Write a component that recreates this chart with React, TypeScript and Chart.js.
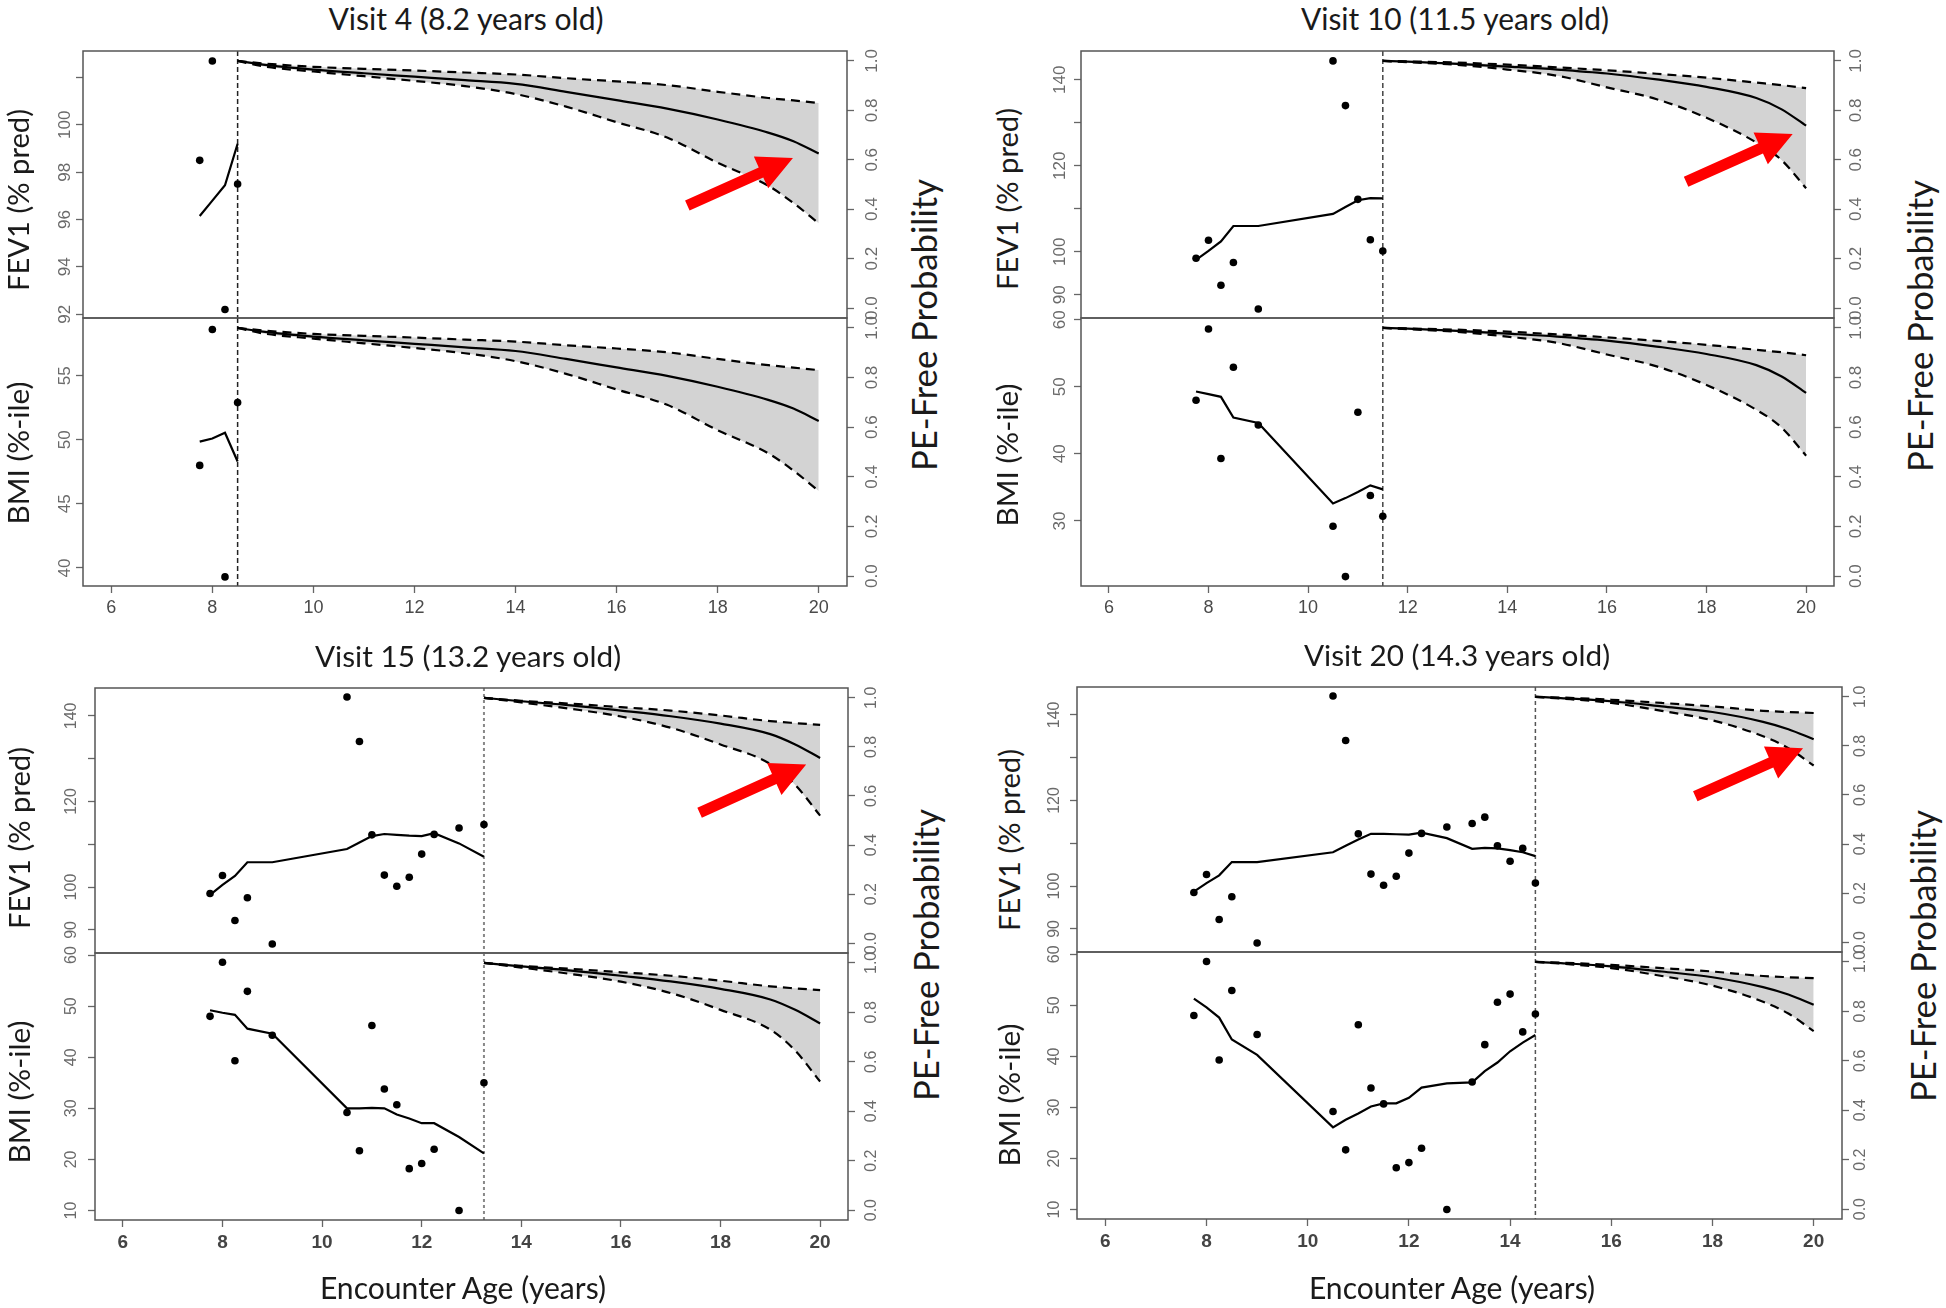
import React, { useEffect, useRef } from "react";
import { Chart, registerables } from "chart.js";
Chart.register(...registerables);

// ---------------- DATA ----------------
// Encounter ages (years) of the 20 visits and observed values
const AGE = [7.75, 8.0, 8.25, 8.5, 9.0, 10.5, 10.75, 11.0, 11.25, 11.5, 11.75, 12.0, 12.25, 12.75, 13.25, 13.5, 13.75, 14.0, 14.25, 14.5];
const FEV1 = [98.5, 102.7, 92.2, 97.5, 86.7, 144.4, 134.0, 112.2, 102.8, 100.2, 102.3, 107.7, 112.3, 113.8, 114.6, 116.1, 109.4, 105.8, 108.8, 100.7];
const BMI = [48.0, 58.6, 39.3, 52.9, 44.3, 29.2, 21.7, 46.2, 33.8, 30.7, 18.2, 19.2, 22.0, 10.0, 35.0, 42.3, 50.6, 52.2, 44.8, 48.3];

const VISIT_TITLES = ["Visit 4 (8.2 years old)", "Visit 10 (11.5 years old)", "Visit 15 (13.2 years old)", "Visit 20 (14.3 years old)"];
const VISIT_CUTOFF = [8.5, 11.5, 13.25, 14.5];

// fitted trajectories (aligned with AGE by index)
const FIT_FEV1_V4 = [96.15, 96.8, 97.45, 99.2];
const FIT_BMI_V4 = [49.85, 50.1, 50.55, 48.3];
const FIT_FEV1_V10 = [98.1, 100.2, 102.4, 106.0, 106.0, 108.8, 110.4, 112.0, 112.5, 112.4];
const FIT_BMI_V10 = [49.3, 48.9, 48.5, 45.4, 44.6, 32.6, 33.4, 34.3, 35.3, 34.7];
const FIT_FEV1_V15 = [98.2, 100.5, 102.6, 105.8, 105.8, 108.9, 110.4, 111.9, 112.4, 112.2, 112.0, 111.9, 112.6, 110.2, 107.1];
const FIT_BMI_V15 = [49.2, 48.7, 48.3, 45.6, 44.6, 30.0, 30.0, 30.1, 30.0, 28.8, 28.0, 27.1, 27.1, 24.4, 21.2];
const FIT_FEV1_V20 = [98.7, 100.7, 102.5, 105.6, 105.6, 107.9, 109.4, 110.9, 112.2, 112.2, 112.1, 112.0, 112.5, 111.2, 108.7, 108.9, 108.8, 108.4, 107.9, 107.0];
const FIT_BMI_V20 = [51.3, 49.6, 47.6, 43.3, 40.3, 26.1, 27.6, 28.8, 30.2, 30.8, 30.8, 31.9, 33.9, 34.7, 34.9, 37.1, 38.8, 41.0, 42.7, 44.2];

// PE-free probability predictions (mid, upper and lower bound)
const PROB_AGE_V4 = [8.5, 9, 10, 11, 12, 13, 14, 15, 16, 17, 18, 19, 19.5, 20];
const PROB_MID_V4 = [1.0, 0.985, 0.965, 0.95, 0.936, 0.922, 0.907, 0.875, 0.841, 0.807, 0.763, 0.71, 0.675, 0.625];
const PROB_HI_V4 = [1.0, 0.99, 0.976, 0.968, 0.961, 0.953, 0.945, 0.93, 0.917, 0.902, 0.875, 0.85, 0.84, 0.83];
const PROB_LO_V4 = [1.0, 0.978, 0.957, 0.938, 0.919, 0.898, 0.866, 0.815, 0.752, 0.69, 0.588, 0.495, 0.425, 0.343];

const PROB_AGE_V10 = [11.5, 12, 13, 14, 15, 16, 17, 18, 19, 19.5, 20];
const PROB_MID_V10 = [1.0, 0.997, 0.988, 0.977, 0.965, 0.949, 0.925, 0.895, 0.85, 0.805, 0.738];
const PROB_HI_V10 = [1.0, 0.998, 0.993, 0.985, 0.974, 0.962, 0.948, 0.932, 0.912, 0.902, 0.89];
const PROB_LO_V10 = [1.0, 0.995, 0.984, 0.965, 0.94, 0.893, 0.845, 0.77, 0.67, 0.6, 0.485];

const PROB_AGE_V15 = [13.25, 14, 15, 16, 17, 18, 19, 19.5, 20];
const PROB_MID_V15 = [1.0, 0.986, 0.969, 0.948, 0.925, 0.895, 0.852, 0.81, 0.755];
const PROB_HI_V15 = [1.0, 0.988, 0.976, 0.962, 0.948, 0.928, 0.905, 0.897, 0.89];
const PROB_LO_V15 = [1.0, 0.981, 0.955, 0.924, 0.878, 0.81, 0.73, 0.645, 0.52];

const PROB_AGE_V20 = [14.5, 15, 16, 17, 18, 19, 19.5, 20];
const PROB_MID_V20 = [1.0, 0.995, 0.982, 0.961, 0.938, 0.898, 0.868, 0.827];
const PROB_HI_V20 = [1.0, 0.997, 0.988, 0.975, 0.961, 0.943, 0.938, 0.934];
const PROB_LO_V20 = [1.0, 0.993, 0.975, 0.943, 0.904, 0.839, 0.791, 0.72];

// axis ranges and ticks
const X_RANGE = [5.44, 20.56];
const X_TICKS = [6, 8, 10, 12, 14, 16, 18, 20];
const PROB_RANGE = [-0.04, 1.04];
const PROB_TICKS = [0, 0.2, 0.4, 0.6, 0.8, 1.0];
const PROB_LABELS = ["0.0", "0.2", "0.4", "0.6", "0.8", "1.0"];
const FEV1_RANGE = [[91.84, 103.12], [84.6, 146.7], [84.6, 146.5], [84.6, 146.5]];
const BMI_RANGE = [[38.59, 59.5], [20.3, 60.25], [8.15, 60.4], [8.15, 60.45]];
const FEV1_TICKS_V4 = [92, 94, 96, 98, 100, 102];
const FEV1_LABELS_V4 = ["92", "94", "96", "98", "100", ""];
const FEV1_TICKS = [90, 100, 110, 120, 130, 140];
const FEV1_LABELS = ["90", "100", "", "120", "", "140"];
const BMI_TICKS_V4 = [40, 45, 50, 55];
const BMI_LABELS_V4 = ["40", "45", "50", "55"];
const BMI_TICKS_V10 = [30, 40, 50, 60];
const BMI_LABELS_V10 = ["30", "40", "50", "60"];
const BMI_TICKS = [10, 20, 30, 40, 50, 60];
const BMI_LABELS = ["10", "20", "30", "40", "50", "60"];

// red annotation arrows: [x0, p0, x1, p1] in (age, probability)
const ARROWS = [
  [17.4, 0.415, 19.49, 0.607],
  [17.59, 0.511, 19.73, 0.704],
  [17.58, 0.532, 19.72, 0.728],
  [17.66, 0.595, 19.79, 0.79],
];

// ---------------- PANEL TABLE (built from the arrays) ----------------
const PANELS = [
  { cutoff: VISIT_CUTOFF[0], fitFev: FIT_FEV1_V4, fitBmi: FIT_BMI_V4, pAge: PROB_AGE_V4, pMid: PROB_MID_V4, pHi: PROB_HI_V4, pLo: PROB_LO_V4, fevRange: FEV1_RANGE[0], bmiRange: BMI_RANGE[0], fevTicks: FEV1_TICKS_V4, fevLabels: FEV1_LABELS_V4, bmiTicks: BMI_TICKS_V4, bmiLabels: BMI_LABELS_V4, arrow: ARROWS[0] },
  { cutoff: VISIT_CUTOFF[1], fitFev: FIT_FEV1_V10, fitBmi: FIT_BMI_V10, pAge: PROB_AGE_V10, pMid: PROB_MID_V10, pHi: PROB_HI_V10, pLo: PROB_LO_V10, fevRange: FEV1_RANGE[1], bmiRange: BMI_RANGE[1], fevTicks: FEV1_TICKS, fevLabels: FEV1_LABELS, bmiTicks: BMI_TICKS_V10, bmiLabels: BMI_LABELS_V10, arrow: ARROWS[1] },
  { cutoff: VISIT_CUTOFF[2], fitFev: FIT_FEV1_V15, fitBmi: FIT_BMI_V15, pAge: PROB_AGE_V15, pMid: PROB_MID_V15, pHi: PROB_HI_V15, pLo: PROB_LO_V15, fevRange: FEV1_RANGE[2], bmiRange: BMI_RANGE[2], fevTicks: FEV1_TICKS, fevLabels: FEV1_LABELS, bmiTicks: BMI_TICKS, bmiLabels: BMI_LABELS, arrow: ARROWS[2] },
  { cutoff: VISIT_CUTOFF[3], fitFev: FIT_FEV1_V20, fitBmi: FIT_BMI_V20, pAge: PROB_AGE_V20, pMid: PROB_MID_V20, pHi: PROB_HI_V20, pLo: PROB_LO_V20, fevRange: FEV1_RANGE[3], bmiRange: BMI_RANGE[3], fevTicks: FEV1_TICKS, fevLabels: FEV1_LABELS, bmiTicks: BMI_TICKS, bmiLabels: BMI_LABELS, arrow: ARROWS[3] },
];

// ---------------- LAYOUT / STYLE ----------------
const LW = 50;
const RW = 50;
const PADV = 12;
const XAXIS_H = 48;
const TICK_FONT = "'Liberation Sans', Arial, sans-serif";
const TEXT_FONT = "Lato, 'Open Sans', sans-serif";

const STYLE = [
  { box: { l: 83, r: 847, t: 51, m: 318, b: 586 }, gapL: 18, gapR: 25, ySize: 17, xSize: 18, xWeight: "normal", xColor: "#4a4a4a", xPad: 4, vColor: "#222", vWidth: 1.5, vDash: [5, 3],
    title: [466, 18], fevLab: [17, 200], bmiLab: [17, 453], probLab: [923, 325], titleW: 276 },
  { box: { l: 1081, r: 1834, t: 51, m: 318, b: 586 }, gapL: 21, gapR: 22, ySize: 17, xSize: 18, xWeight: "normal", xColor: "#4a4a4a", xPad: 4, vColor: "#444", vWidth: 1.5, vDash: [5, 3],
    title: [1455, 18], fevLab: [1006, 199], bmiLab: [1006, 455], probLab: [1919, 326], titleW: 309 },
  { box: { l: 95, r: 848, t: 688, m: 953, b: 1220 }, gapL: 23, gapR: 24, ySize: 16, xSize: 19, xWeight: "bold", xColor: "#444", xPad: 4, vColor: "#888", vWidth: 2, vDash: [3, 3],
    title: [468, 655], fevLab: [18, 838], bmiLab: [18, 1092], probLab: [925, 955], titleW: 307, xLab: [463, 1287] },
  { box: { l: 1077, r: 1842, t: 687, m: 952, b: 1219 }, gapL: 22, gapR: 19, ySize: 16, xSize: 19, xWeight: "bold", xColor: "#444", xPad: 4, vColor: "#555", vWidth: 1.5, vDash: [4, 3],
    title: [1457, 654], fevLab: [1008, 840], bmiLab: [1008, 1095], probLab: [1922, 956], titleW: 307, xLab: [1452, 1287] },
];

const FRAME = "#555";
const TICKC = "#666";
const YLABC = "#6a6a6a";

function buildChart(canvas: HTMLCanvasElement, p: number, isTop: boolean) {
  const d = PANELS[p];
  const s = STYLE[p];
  const vals = isTop ? FEV1 : BMI;
  const fit = isTop ? d.fitFev : d.fitBmi;
  const pts = AGE.map((a, i) => ({ x: a, y: vals[i] })).filter((pt) => pt.x <= d.cutoff + 1e-9);
  const fitPts = fit.map((v, i) => ({ x: AGE[i], y: v }));
  const prob = (arr: number[]) => d.pAge.map((a, i) => ({ x: a, y: arr[i] }));
  const yRange = isTop ? d.fevRange : d.bmiRange;
  const yTicks = isTop ? d.fevTicks : d.bmiTicks;
  const yLabels = isTop ? d.fevLabels : d.bmiLabels;

  const gridOpts = { display: true, drawOnChartArea: false, drawTicks: true, tickLength: 7, tickColor: TICKC, tickWidth: 1.3 };

  const plugin = {
    id: "rstyle" + p + (isTop ? "t" : "b"),
    beforeDatasetsDraw(chart: any) {
      const ca = chart.chartArea;
      const xs = chart.scales.x;
      const ctx = chart.ctx;
      const px = xs.getPixelForValue(d.cutoff);
      ctx.save();
      ctx.strokeStyle = s.vColor;
      ctx.lineWidth = s.vWidth;
      ctx.setLineDash(s.vDash);
      ctx.beginPath();
      ctx.moveTo(px, ca.top);
      ctx.lineTo(px, ca.bottom);
      ctx.stroke();
      ctx.restore();
    },
    afterDatasetsDraw(chart: any) {
      if (!isTop) return;
      const xs = chart.scales.x;
      const yr = chart.scales.yR;
      const ctx = chart.ctx;
      const [ax0, ay0, ax1, ay1] = d.arrow;
      const x0 = xs.getPixelForValue(ax0), y0 = yr.getPixelForValue(ay0);
      const x1 = xs.getPixelForValue(ax1), y1 = yr.getPixelForValue(ay1);
      const len = Math.hypot(x1 - x0, y1 - y0);
      const ux = (x1 - x0) / len, uy = (y1 - y0) / len;
      const nx = -uy, ny = ux;
      const headL = 35, headW = 35, shaftW = 11;
      const bx = x1 - ux * headL, by = y1 - uy * headL;
      ctx.save();
      ctx.fillStyle = "#ff0000";
      ctx.beginPath();
      ctx.moveTo(x0 + nx * shaftW / 2, y0 + ny * shaftW / 2);
      ctx.lineTo(bx + nx * shaftW / 2, by + ny * shaftW / 2);
      ctx.lineTo(bx + nx * headW / 2, by + ny * headW / 2);
      ctx.lineTo(x1, y1);
      ctx.lineTo(bx - nx * headW / 2, by - ny * headW / 2);
      ctx.lineTo(bx - nx * shaftW / 2, by - ny * shaftW / 2);
      ctx.lineTo(x0 - nx * shaftW / 2, y0 - ny * shaftW / 2);
      ctx.closePath();
      ctx.fill();
      ctx.restore();
    },
    afterDraw(chart: any) {
      const ca = chart.chartArea;
      const ctx = chart.ctx;
      ctx.save();
      ctx.strokeStyle = FRAME;
      ctx.lineWidth = 1.5;
      ctx.strokeRect(ca.left, ca.top, ca.right - ca.left, ca.bottom - ca.top);
      ctx.fillStyle = YLABC;
      ctx.font = `${s.ySize}px ${TICK_FONT}`;
      ctx.textAlign = "center";
      ctx.textBaseline = "middle";
      const drawLabels = (scale: any, ticks: number[], labels: string[], x: number) => {
        ticks.forEach((v, i) => {
          if (!labels[i]) return;
          const y = scale.getPixelForValue(v);
          ctx.save();
          ctx.translate(x, y);
          ctx.rotate(-Math.PI / 2);
          ctx.fillText(labels[i], 0, 0);
          ctx.restore();
        });
      };
      drawLabels(chart.scales.yL, yTicks, yLabels, ca.left - s.gapL);
      drawLabels(chart.scales.yR, PROB_TICKS, PROB_LABELS, ca.right + s.gapR);
      ctx.restore();
    },
  };

  const probLine = { pointRadius: 0, yAxisID: "yR", cubicInterpolationMode: "monotone", borderColor: "#000", borderWidth: 2.2 };

  return new Chart(canvas, {
    type: "line",
    data: {
      datasets: [
        { data: pts, showLine: false, pointRadius: 3.8, pointBackgroundColor: "#000", pointBorderColor: "#000", pointBorderWidth: 0, borderColor: "#000", yAxisID: "yL" },
        { data: fitPts, borderColor: "#000", borderWidth: 2.2, pointRadius: 0, yAxisID: "yL" },
        { ...probLine, data: prob(d.pMid) },
        { ...probLine, data: prob(d.pLo), borderDash: [9, 6] },
        { ...probLine, data: prob(d.pHi), borderDash: [9, 6], fill: 3, backgroundColor: "#d3d3d3" },
      ],
    } as any,
    options: {
      responsive: false,
      animation: false,
      events: [],
      layout: { padding: { top: PADV, bottom: PADV, left: 0, right: 0 } },
      plugins: {
        legend: { display: false },
        tooltip: { enabled: false },
        title: { display: false },
        filler: { drawTime: "beforeDatasetsDraw" },
      },
      scales: {
        x: {
          type: "linear",
          min: X_RANGE[0],
          max: X_RANGE[1],
          display: !isTop,
          afterBuildTicks: (sc: any) => { sc.ticks = X_TICKS.map((v) => ({ value: v })); },
          afterFit: (sc: any) => { sc.height = isTop ? 0 : XAXIS_H; },
          grid: gridOpts,
          border: { display: false },
          ticks: { autoSkip: false, maxRotation: 0, minRotation: 0, padding: s.xPad, color: s.xColor, font: { family: TICK_FONT, size: s.xSize, weight: s.xWeight } },
        },
        yL: {
          type: "linear",
          position: "left",
          min: yRange[0],
          max: yRange[1],
          afterBuildTicks: (sc: any) => { sc.ticks = yTicks.map((v) => ({ value: v })); },
          afterFit: (sc: any) => { sc.width = LW; },
          grid: gridOpts,
          border: { display: false },
          ticks: { display: false },
        },
        yR: {
          type: "linear",
          position: "right",
          min: PROB_RANGE[0],
          max: PROB_RANGE[1],
          afterBuildTicks: (sc: any) => { sc.ticks = PROB_TICKS.map((v) => ({ value: v })); },
          afterFit: (sc: any) => { sc.width = RW; },
          grid: gridOpts,
          border: { display: false },
          ticks: { display: false },
        },
      },
    } as any,
    plugins: [plugin],
  });
}

let measureCtx: CanvasRenderingContext2D | null = null;
function fitSize(text: string, target: number) {
  if (typeof document === "undefined") return 28;
  if (!measureCtx) measureCtx = document.createElement("canvas").getContext("2d");
  if (!measureCtx) return 28;
  measureCtx.font = `100px ${TEXT_FONT}`;
  const w = measureCtx.measureText(text).width;
  return w > 0 ? (100 * target) / w : 28;
}

function Label(props: { text: string; cx: number; cy: number; width: number; rotate?: boolean }) {
  const size = fitSize(props.text, props.width);
  return (
    <div
      style={{
        position: "absolute",
        left: props.cx,
        top: props.cy,
        transform: `translate(-50%, -50%)${props.rotate ? " rotate(-90deg)" : ""}`,
        fontFamily: TEXT_FONT,
        fontSize: size,
        lineHeight: "normal",
        whiteSpace: "nowrap",
        color: "#1a1a1a",
      }}
    >
      {props.text}
    </div>
  );
}

export default function App() {
  const refs = useRef<(HTMLCanvasElement | null)[]>([]);

  useEffect(() => {
    const charts: Chart[] = [];
    for (let p = 0; p < 4; p++) {
      for (let k = 0; k < 2; k++) {
        const c = refs.current[p * 2 + k];
        if (c) charts.push(buildChart(c, p, k === 0));
      }
    }
    return () => charts.forEach((ch) => ch.destroy());
  }, []);

  const canvases: JSX.Element[] = [];
  STYLE.forEach((s, p) => {
    const b = s.box;
    const w = b.r - b.l + LW + RW;
    const hTop = b.m - b.t + 2 * PADV;
    const hBot = b.b - b.m + 2 * PADV + XAXIS_H;
    canvases.push(
      <canvas key={`c${p}t`} ref={(el) => { refs.current[p * 2] = el; }} width={w} height={hTop}
        style={{ position: "absolute", left: b.l - LW, top: b.t - PADV, width: w, height: hTop }} />
    );
    canvases.push(
      <canvas key={`c${p}b`} ref={(el) => { refs.current[p * 2 + 1] = el; }} width={w} height={hBot}
        style={{ position: "absolute", left: b.l - LW, top: b.m - PADV, width: w, height: hBot }} />
    );
  });

  return (
    <div style={{ position: "absolute", left: 0, top: 0, width: 1946, height: 1308, background: "#fff", overflow: "hidden" }}>
      {canvases}
      {STYLE.map((s, p) => (
        <React.Fragment key={`t${p}`}>
          <Label text={VISIT_TITLES[p]} cx={s.title[0]} cy={s.title[1]} width={s.titleW} />
          <Label text="FEV1 (% pred)" cx={s.fevLab[0]} cy={s.fevLab[1]} width={182} rotate />
          <Label text="BMI (%-ile)" cx={s.bmiLab[0]} cy={s.bmiLab[1]} width={143} rotate />
          <Label text="PE-Free Probability" cx={s.probLab[0]} cy={s.probLab[1]} width={292} rotate />
          {s.xLab ? <Label text="Encounter Age (years)" cx={s.xLab[0]} cy={s.xLab[1]} width={288} /> : null}
        </React.Fragment>
      ))}
    </div>
  );
}
